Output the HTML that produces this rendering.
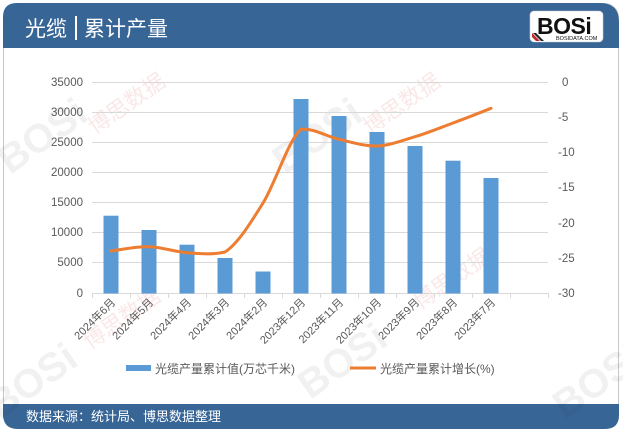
<!DOCTYPE html>
<html><head><meta charset="utf-8"><style>
html,body{margin:0;padding:0;background:#fff;}
svg{display:block;}
text{font-family:"Liberation Sans","Noto Sans CJK SC",sans-serif;}
</style></head><body>
<svg width="623" height="433" viewBox="0 0 623 433" xmlns="http://www.w3.org/2000/svg">
<!-- frame -->
<rect x="3.5" y="3.5" width="615" height="425" rx="14" ry="14" fill="#fff" stroke="#c8c8c8" stroke-width="1"/>
<!-- header -->
<path d="M3,48 L3,17 Q3,3 17,3 L600,3 Q619,3 619,22 L619,48 Z" fill="#376596"/>
<!-- footer -->
<path d="M3,404 L619,404 L619,415 Q619,429 605,429 L18,429 Q3,429 3,414 Z" fill="#376596"/>

<!-- watermarks (faint) -->
<g opacity="0.07" fill="#333" font-weight="bold" font-size="40">
<text transform="translate(10,175) rotate(-35)">BOSi</text>
<text transform="translate(285,175) rotate(-35)">BOSi</text>
<text transform="translate(0,420) rotate(-35)">BOSi</text>
<text transform="translate(310,400) rotate(-35)">BOSi</text>
<text transform="translate(565,420) rotate(-35)">BOSi</text>
</g>
<g opacity="0.12" fill="#d04040" font-size="22">
<text transform="translate(95,135) rotate(-35)">博思数据</text>
<text transform="translate(370,135) rotate(-35)">博思数据</text>
<text transform="translate(420,310) rotate(-35)">博思数据</text>
<text transform="translate(90,350) rotate(-35)">博思数据</text>
</g>

<!-- title -->
<text x="25" y="36" font-size="21" fill="#fff">光缆</text>
<rect x="75" y="16" width="2" height="24" fill="#fff"/>
<text x="84" y="36" font-size="21" fill="#fff">累计产量</text>

<!-- logo -->
<rect x="530" y="11" width="73" height="31" rx="4" fill="#fff" stroke="#ccc" stroke-width="0.6"/>
<text x="537" y="34" font-size="23" font-weight="bold" fill="#111" letter-spacing="-0.5">BOSi</text>
<text x="556" y="40" font-size="5.5" fill="#111">BOSIDATA.COM</text>
<path d="M532,33 L540,41 L536,41 L532,37 Z" fill="#c0282d"/>
<path d="M536,33 L544,41 L541,41 L533,33 Z" fill="#222"/>

<!-- gridlines -->
<g stroke="#d9d9d9" stroke-width="1">
<line x1="92" y1="82.5" x2="548" y2="82.5"/>
<line x1="92" y1="112.5" x2="548" y2="112.5"/>
<line x1="92" y1="142.5" x2="548" y2="142.5"/>
<line x1="92" y1="172.5" x2="548" y2="172.5"/>
<line x1="92" y1="202.5" x2="548" y2="202.5"/>
<line x1="92" y1="232.5" x2="548" y2="232.5"/>
<line x1="92" y1="262.5" x2="548" y2="262.5"/>
<line x1="92" y1="293.5" x2="548" y2="293.5"/>
</g>
<g stroke="#d9d9d9" stroke-width="1">
<line x1="92.5" y1="293" x2="92.5" y2="298"/>
<line x1="130.5" y1="293" x2="130.5" y2="298"/>
<line x1="168.5" y1="293" x2="168.5" y2="298"/>
<line x1="206.5" y1="293" x2="206.5" y2="298"/>
<line x1="244.5" y1="293" x2="244.5" y2="298"/>
<line x1="282.5" y1="293" x2="282.5" y2="298"/>
<line x1="320.5" y1="293" x2="320.5" y2="298"/>
<line x1="358.5" y1="293" x2="358.5" y2="298"/>
<line x1="396.5" y1="293" x2="396.5" y2="298"/>
<line x1="434.5" y1="293" x2="434.5" y2="298"/>
<line x1="472.5" y1="293" x2="472.5" y2="298"/>
<line x1="510.5" y1="293" x2="510.5" y2="298"/>
<line x1="548.5" y1="293" x2="548.5" y2="298"/>
</g>

<!-- left axis labels -->
<g font-size="11.5" fill="#595959" text-anchor="end">
<text x="83" y="86">35000</text>
<text x="83" y="116">30000</text>
<text x="83" y="146">25000</text>
<text x="83" y="176">20000</text>
<text x="83" y="206">15000</text>
<text x="83" y="236">10000</text>
<text x="83" y="266">5000</text>
<text x="83" y="297">0</text>
</g>
<!-- right axis labels -->
<g font-size="11.5" fill="#595959">
<text x="562" y="86">0</text>
<text x="558" y="121">-5</text>
<text x="558" y="156">-10</text>
<text x="558" y="191">-15</text>
<text x="558" y="227">-20</text>
<text x="558" y="262">-25</text>
<text x="558" y="297">-30</text>
</g>

<!-- bars -->
<g fill="#5b9bd5">
<rect x="103.5" y="215.7" width="15" height="77.8"/>
<rect x="141.5" y="230" width="15" height="63.5"/>
<rect x="179.5" y="244.7" width="15" height="48.8"/>
<rect x="217.5" y="258" width="15" height="35.5"/>
<rect x="255.5" y="271.5" width="15" height="22"/>
<rect x="293.5" y="99" width="15" height="194.5"/>
<rect x="331.5" y="116" width="15" height="177.5"/>
<rect x="369.5" y="132" width="15" height="161.5"/>
<rect x="407.5" y="146" width="15" height="147.5"/>
<rect x="445.5" y="160.7" width="15" height="132.8"/>
<rect x="483.5" y="178" width="15" height="115.5"/>
</g>

<!-- line -->
<path d="M111,251 C117.3,250.3 136.3,246.4 149,246.7 C161.7,247 174.3,251.8 187,252.7 C199.7,253.6 212.3,255 225,252 C237.7,243.7 250.3,223.5 263,203 C275.7,182.6 288.3,139.9 301,129.3 C313.7,128 326.3,136.5 339,139.3 C351.7,142.1 364.3,146.4 377,146 C389.7,145.6 402.3,140.5 415,136.7 C427.7,132.9 440.3,127.7 453,123 C465.7,118.3 484.7,110.8 491,108.3" fill="none" stroke="#ed7d31" stroke-width="3" stroke-linejoin="round" stroke-linecap="round"/>

<!-- x labels -->
<g font-size="11" fill="#595959" text-anchor="end">
<text transform="translate(116,303) rotate(-45)">2024年6月</text>
<text transform="translate(154,303) rotate(-45)">2024年5月</text>
<text transform="translate(192,303) rotate(-45)">2024年4月</text>
<text transform="translate(230,303) rotate(-45)">2024年3月</text>
<text transform="translate(268,303) rotate(-45)">2024年2月</text>
<text transform="translate(306,303) rotate(-45)">2023年12月</text>
<text transform="translate(344,303) rotate(-45)">2023年11月</text>
<text transform="translate(382,303) rotate(-45)">2023年10月</text>
<text transform="translate(420,303) rotate(-45)">2023年9月</text>
<text transform="translate(458,303) rotate(-45)">2023年8月</text>
<text transform="translate(496,303) rotate(-45)">2023年7月</text>
</g>

<!-- legend -->
<rect x="126" y="365" width="25" height="6" fill="#5b9bd5"/>
<text x="155" y="373" font-size="12" fill="#595959">光缆产量累计值(万芯千米)</text>
<line x1="350" y1="368" x2="376" y2="368" stroke="#ed7d31" stroke-width="3"/>
<text x="380" y="373" font-size="12" fill="#595959">光缆产量累计增长(%)</text>

<!-- footer text -->
<text x="26" y="421" font-size="13" fill="#fff">数据来源：统计局、博思数据整理</text>
</svg>
</body></html>
